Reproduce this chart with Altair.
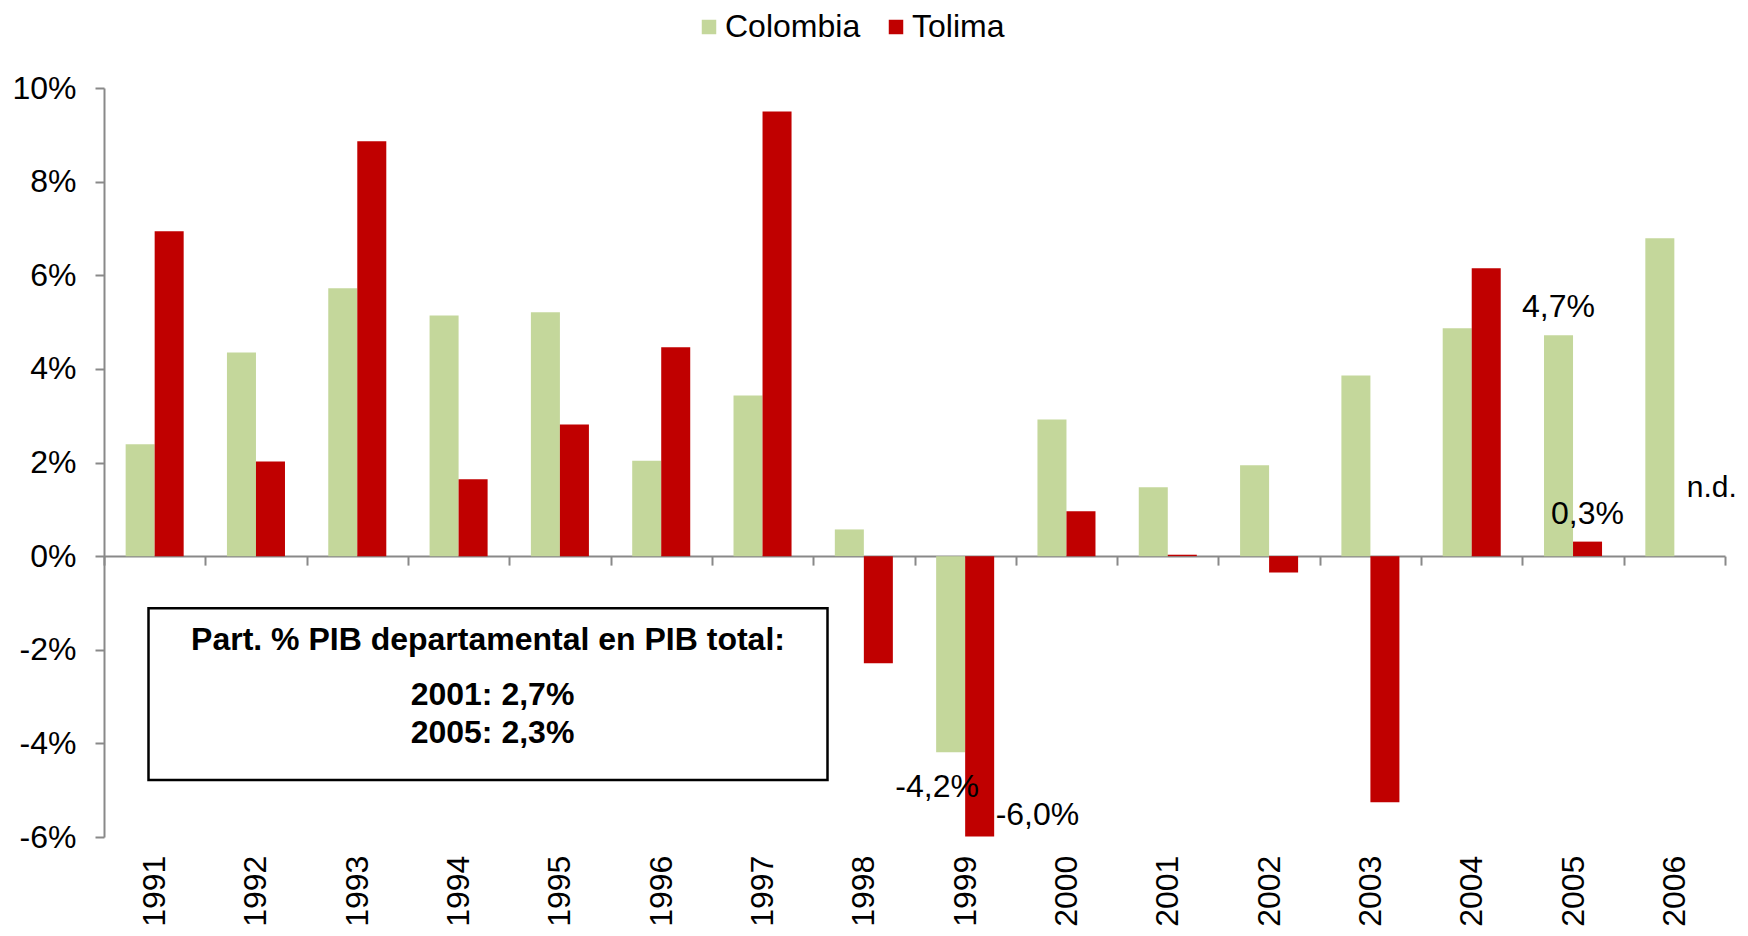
import altair as alt
import pandas as pd

FONT = "Liberation Sans, Arial, sans-serif"
GRAY = "#898989"

years = [str(y) for y in range(1991, 2007)]
colombia = [2.39, 4.35, 5.72, 5.14, 5.21, 2.04, 3.43, 0.57, -4.19, 2.92, 1.47, 1.94, 3.86, 4.87, 4.72, 6.79]
tolima = [6.94, 2.02, 8.86, 1.64, 2.81, 4.46, 9.50, -2.29, -5.99, 0.96, 0.03, -0.35, -5.26, 6.15, 0.31, None]
series = ["Colombia", "Tolima"]
colors = ["#C4D79B", "#C00000"]
y_ticks = [-6, -4, -2, 0, 2, 4, 6, 8, 10]
box_lines = ["Part. % PIB departamental en PIB total:", "2001: 2,7%", "2005: 2,3%"]

rows = []
for i, yr in enumerate(years):
    rows.append({"year": yr, "series": "Colombia", "value": colombia[i]})
    if tolima[i] is not None:
        rows.append({"year": yr, "series": "Tolima", "value": tolima[i]})
df = pd.DataFrame(rows)


def val(yr, s):
    i = years.index(yr)
    return colombia[i] if s == "Colombia" else tolima[i]


lab_above = pd.DataFrame([
    {"year": "2005", "series": "Colombia", "value": val("2005", "Colombia"), "text": "4,7%"},
    {"year": "2005", "series": "Tolima", "value": val("2005", "Tolima"), "text": "0,3%"},
])
lab_col99 = pd.DataFrame([{"year": "1999", "series": "Colombia", "value": val("1999", "Colombia"), "text": "-4,2%"}])
lab_tol99 = pd.DataFrame([{"year": "1999", "series": "Tolima", "value": val("1999", "Tolima"), "text": "-6,0%"}])
lab_nd = pd.DataFrame([{"year": "2006", "series": "Tolima", "value": 0.0, "text": "n.d."}])

x_enc = alt.X(
    "year:N",
    sort=years,
    scale=alt.Scale(domain=years, paddingInner=0, paddingOuter=0),
    axis=alt.Axis(
        orient="bottom", offset=-280.9, title=None,
        domainColor=GRAY, domainWidth=2,
        ticks=True, tickBand="extent", tickSize=9, tickWidth=2, tickColor=GRAY,
        labelAngle=270, labelAlign="right", labelBaseline="middle",
        labelPadding=290, labelFontSize=32, labelFont=FONT, labelColor="black",
        labelOverlap=False, grid=False,
    ),
)
xo_enc = alt.XOffset(
    "series:N", sort=series,
    scale=alt.Scale(domain=series, paddingInner=0, paddingOuter=0.746),
)
y_enc = alt.Y(
    "value:Q",
    scale=alt.Scale(domain=[-6, 10], nice=False, zero=False),
    axis=alt.Axis(
        values=y_ticks, labelExpr="datum.value + '%'", title=None, grid=False,
        domainColor=GRAY, domainWidth=2, tickColor=GRAY, tickWidth=2, tickSize=9,
        labelFontSize=32, labelFont=FONT, labelColor="black", labelPadding=19,
    ),
)

bars = alt.Chart(df).mark_bar().encode(
    x=x_enc,
    xOffset=xo_enc,
    y=y_enc,
    color=alt.Color(
        "series:N",
        scale=alt.Scale(domain=series, range=colors),
        legend=alt.Legend(
            orient="none", legendX=589, legendY=-77, direction="horizontal",
            title=None, symbolType="square", symbolSize=210, symbolStrokeWidth=0,
            labelFontSize=32, labelFont=FONT, labelColor="black", labelOffset=0,
            columnPadding=19, padding=0,
        ),
    ),
)

def txt(data, **kw):
    base = dict(fontSize=32, font=FONT, color="black", baseline="alphabetic")
    base.update(kw)
    return alt.Chart(data).mark_text(**base).encode(
        x=x_enc, xOffset=xo_enc, y=y_enc, text="text:N"
    )

t_above = txt(lab_above, dy=-18)
t_col99 = txt(lab_col99, dx=-13.5, dy=45)
t_tol99 = txt(lab_tol99, align="left", dx=16, dy=-11.4)
t_nd = txt(lab_nd, align="left", dx=-2, dy=-59.4, fontSize=30)

one = pd.DataFrame({"a": [0]})
box = alt.Chart(one).mark_rect(fill="white", stroke="black", strokeWidth=2.5).encode(
    x=alt.value(44.5), x2=alt.value(723.5), y=alt.value(520.3), y2=alt.value(692)
)
box_texts = []
for line, px, py in zip(box_lines, [384, 388.5, 388.5], [562, 617, 655]):
    box_texts.append(
        alt.Chart(one).mark_text(
            fontSize=32, font=FONT, fontWeight="bold", color="black",
            align="center", baseline="alphabetic",
        ).encode(x=alt.value(px), y=alt.value(py), text=alt.value(line))
    )

chart = alt.layer(bars, t_above, t_col99, t_tol99, t_nd, box, *box_texts).properties(
    width=1621,
    height=749,
    padding={"left": 96, "top": 80, "right": 15, "bottom": 91},
    autosize=alt.AutoSizeParams(type="none"),
    background="white",
).configure_view(stroke=None)

chart.save("out.html", embed_options={"renderer": "svg", "actions": False})
